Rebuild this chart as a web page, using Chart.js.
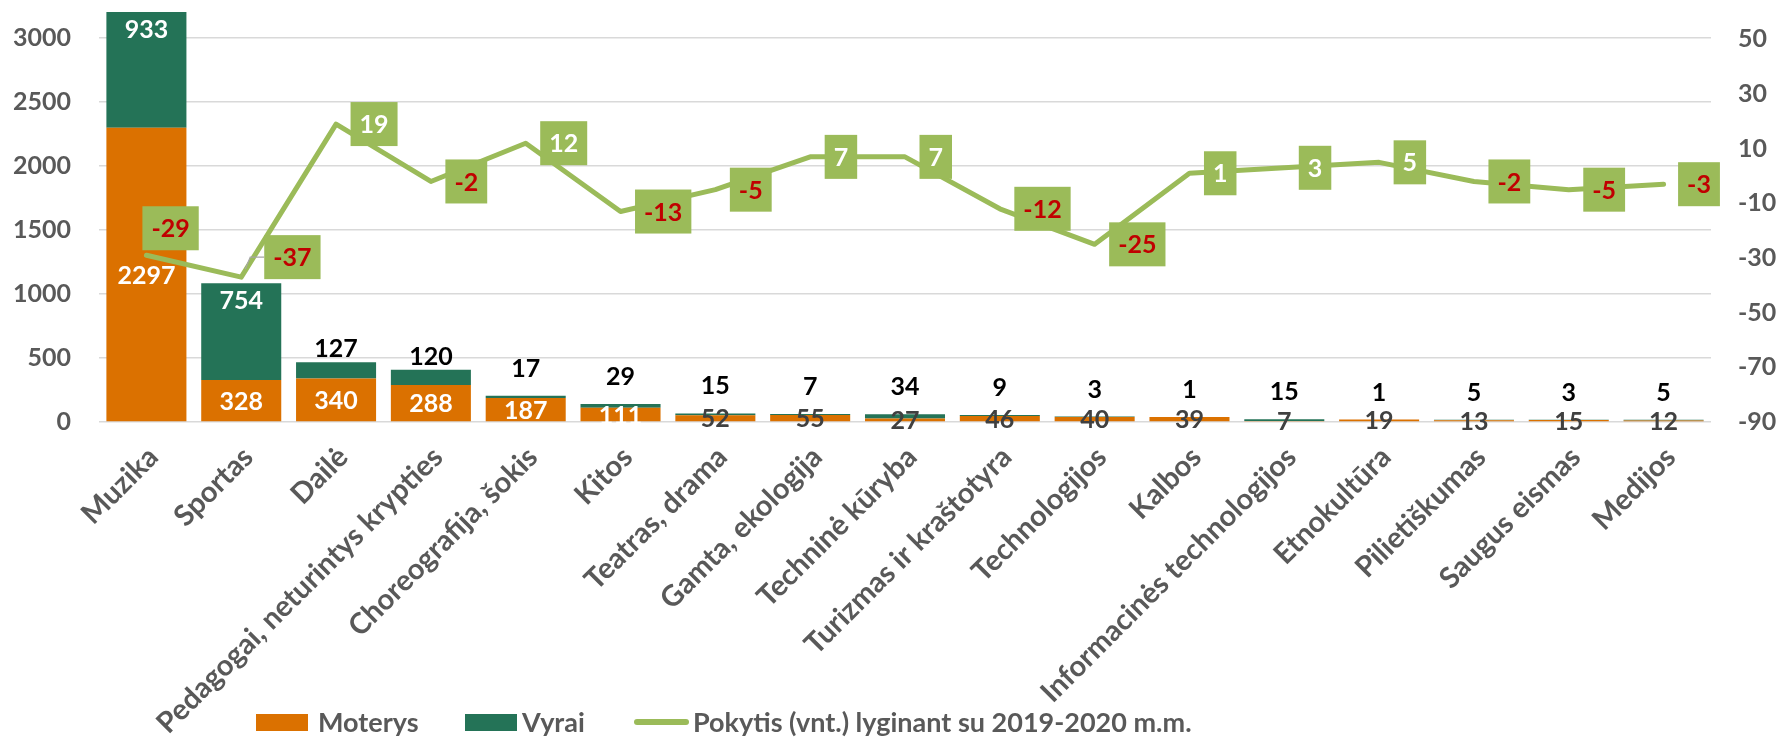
<!DOCTYPE html>
<html><head><meta charset="utf-8">
<script src="https://cdn.jsdelivr.net/npm/chart.js@4.4.1/dist/chart.umd.min.js"></script>
<style>
html,body{margin:0;padding:0;background:#fff;}
#wrap{position:relative;width:1779px;height:737px;overflow:hidden;}
canvas{position:absolute;left:0;top:0;}
.lg{position:absolute;font-family:Lato,sans-serif;font-weight:bold;font-size:27px;color:#595959;line-height:36px;height:36px;top:704px;white-space:nowrap;}
.sw{position:absolute;}
</style></head><body>
<div id="wrap"><canvas id="c" width="1779" height="737"></canvas><div id="legend"></div></div>
<script>
const categories = ['Muzika','Sportas','Dailė','Pedagogai, neturintys krypties','Choreografija, šokis','Kitos','Teatras, drama','Gamta, ekologija','Techninė kūryba','Turizmas ir kraštotyra','Technologijos','Kalbos','Informacinės technologijos','Etnokultūra','Pilietiškumas','Saugus eismas','Medijos'];
const moterys = [2297,328,340,288,187,111,52,55,27,46,40,39,7,19,13,15,12];
const vyrai = [933,754,127,120,17,29,15,7,34,9,3,1,15,1,5,3,5];
const pokytis = [-29,-37,19,-2,12,-13,-5,7,7,-12,-25,1,3,5,-2,-5,-3];
const leftTicks = [0,500,1000,1500,2000,2500,3000];
const rightTicks = [-90,-70,-50,-30,-10,10,30,50];
const seriesNames = ['Moterys','Vyrai','Pokytis (vnt.) lyginant su 2019-2020 m.m.'];

const ORANGE = '#DB7100', DKGREEN = '#247357', LTGREEN = '#9BBB59';
const GRAY = '#595959';
const FONT = 'Lato, sans-serif';

// HTML legend
(function(){
  const lg = document.getElementById('legend');
  const items = [
    {kind:'box', color:ORANGE, sx:256, tx:318, name:seriesNames[0]},
    {kind:'box', color:DKGREEN, sx:465, tx:522, name:seriesNames[1]},
    {kind:'line', color:LTGREEN, sx:634, tx:693, name:seriesNames[2]}
  ];
  items.forEach(it=>{
    const s = document.createElement('div'); s.className='sw';
    if (it.kind==='box') { s.style.cssText += `left:${it.sx}px;top:714px;width:52px;height:17px;background:${it.color}`; }
    else { s.style.cssText += `left:${it.sx}px;top:719px;width:55px;height:6px;border-radius:3px;background:${it.color}`; }
    lg.appendChild(s);
    const t = document.createElement('div'); t.className='lg'; t.style.left = it.tx+'px'; t.textContent = it.name;
    lg.appendChild(t);
  });
})();

const labelPlugin = {
  id: 'valueLabels',
  afterDatasetsDraw(chart) {
    const ctx = chart.ctx, area = chart.chartArea;
    const m0 = chart.getDatasetMeta(0), m1 = chart.getDatasetMeta(1), m2 = chart.getDatasetMeta(2);
    ctx.save();
    ctx.textAlign = 'center'; ctx.textBaseline = 'middle';
    ctx.font = 'bold 25px ' + FONT;
    m0.data.forEach((b,i)=>{
      const cy = (b.y + b.base)/2;
      ctx.fillStyle = moterys[i] >= 100 ? '#FFFFFF' : '#404040';
      ctx.fillText(String(moterys[i]), b.x, cy + 1);
    });
    m1.data.forEach((b,i)=>{
      const top = Math.max(b.y, area.top);
      const h = b.base - top;
      let y, col;
      if (h > 60) { y = top + 18; col = '#FFFFFF'; }
      else if (h > 10) { y = top - 13; col = '#000000'; }
      else { y = b.y - 27; col = '#000000'; }
      ctx.fillStyle = col;
      ctx.fillText(String(vyrai[i]), b.x, y);
    });
    // line labels
    const nudge = {0:[-18.5,-27], 1:[8.5,-20]};
    m2.data.forEach((p,i)=>{
      const txt = String(pokytis[i]);
      const w = ctx.measureText(txt).width + 18;
      const n = nudge[i] || [0,0];
      const left = p.x + 14.5 + n[0];
      const cy = p.y + n[1];
      if (i === 1) {
        ctx.strokeStyle = '#A6A6A6'; ctx.lineWidth = 1.2;
        ctx.beginPath(); ctx.moveTo(p.x + 4, p.y - 8); ctx.lineTo(p.x + 9, cy); ctx.lineTo(left, cy); ctx.stroke();
      }
      ctx.fillStyle = LTGREEN;
      ctx.fillRect(left, cy - 22, w, 44);
      ctx.fillStyle = pokytis[i] < 0 ? '#C00000' : '#FFFFFF';
      ctx.fillText(txt, left + w/2, cy + 1);
    });
    ctx.restore();
  }
};

new Chart(document.getElementById('c'), {
  data: {
    labels: categories,
    datasets: [
      {type:'bar', label:seriesNames[0], data:moterys, backgroundColor:ORANGE, borderWidth:0, yAxisID:'y', order:1, barPercentage:0.844, categoryPercentage:1},
      {type:'bar', label:seriesNames[1], data:vyrai, backgroundColor:DKGREEN, borderWidth:0, yAxisID:'y', order:1, barPercentage:0.844, categoryPercentage:1},
      {type:'line', label:seriesNames[2], data:pokytis, borderColor:LTGREEN, backgroundColor:LTGREEN, borderWidth:5, pointRadius:0, tension:0, yAxisID:'y1', order:0, borderCapStyle:'round', borderJoinStyle:'round', clip:false}
    ]
  },
  options: {
    responsive:false, animation:false,
    layout:{padding:{top:12, left:0, right:0, bottom:0}},
    plugins:{legend:{display:false}, tooltip:{enabled:false}},
    scales:{
      x:{stacked:true, grid:{display:false}, border:{display:false},
         ticks:{autoSkip:false, maxRotation:45, minRotation:45, padding:10, labelOffset:7, color:GRAY, font:{family:FONT, weight:'bold', size:29}},
         afterFit(s){ s.height = 315; s.paddingLeft = 0; s.paddingRight = 0; }},
      y:{stacked:true, min:0, max:3200, position:'left',
         afterBuildTicks(s){ s.ticks = leftTicks.map(v=>({value:v})); },
         grid:{color:'#D9D9D9', lineWidth:1.5, drawTicks:false}, border:{display:false},
         ticks:{padding:28, color:GRAY, font:{family:FONT, weight:'bold', size:25}, callback:(v)=>String(v)},
         afterFit(s){ s.width = 99; s.paddingTop = 0; s.paddingBottom = 0; }},
      y1:{min:-90, max:60, position:'right',
         afterBuildTicks(s){ s.ticks = rightTicks.map(v=>({value:v})); },
         grid:{display:false, drawTicks:false}, border:{display:false},
         ticks:{padding:27, color:GRAY, font:{family:FONT, weight:'bold', size:25}, callback:(v)=>String(v)},
         afterFit(s){ s.width = 68; s.paddingTop = 0; s.paddingBottom = 0; }}
    }
  },
  plugins:[labelPlugin]
});
</script>
</body></html>
